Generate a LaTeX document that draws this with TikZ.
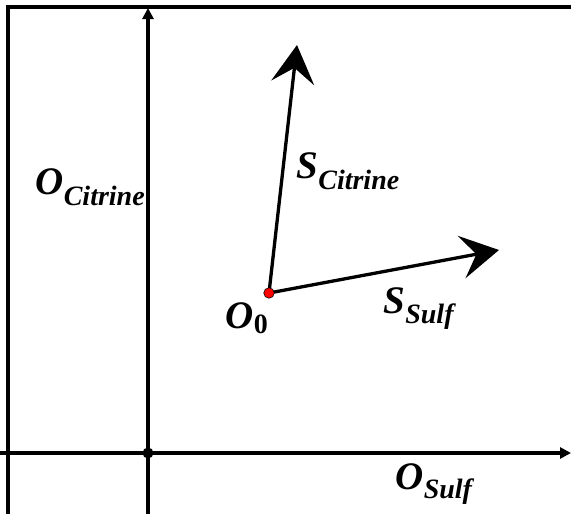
\documentclass[tikz,border=0pt]{standalone}
\usepackage{fontspec}
\setmainfont{Liberation Serif}
\usetikzlibrary{arrows.meta}
\newcommand{\biglet}[1]{{\fontsize{39}{39}\selectfont #1}}
\newcommand{\sublet}[2]{\raisebox{-#1pt}{\fontsize{28}{28}\selectfont #2}}
\begin{document}
\begin{tikzpicture}[x=1pt,y=-1pt, line width=3.3pt,
  lbl/.style={inner sep=0pt, anchor=base west, font=\bfseries\itshape},
  axis/.style={-{Triangle[length=11pt,width=11pt]}},
  vec/.style={-{Stealth[length=38pt,width=43pt,inset=15pt]}},
  dotblack/.style={circle, fill=black, inner sep=0pt, minimum size=11pt},
  dotred/.style={circle, fill=red, draw=black, line width=0.6pt, inner sep=0pt, minimum size=10.5pt}]
\useasboundingbox (0,0) rectangle (571,514);
% frame
\draw (8,516) -- (8,7) -- (573,7);
% axes
\coordinate (vb) at (148,516);
\coordinate (vt) at (148,8);
\coordinate (hl) at (-2,453);
\coordinate (hr) at (571,453);
\draw[axis] (vb) -- (vt);
\draw[axis] (hl) -- (hr);
\node[dotblack] (orig) at (148,453) {};
% vectors
\coordinate (tipc) at (297,45);
\coordinate (tips) at (499,250);
\coordinate (o0c) at (269,293);
\draw[vec] (o0c) -- (tipc);
\draw[vec] (o0c) -- (tips);
\node[dotred] (o0) at (o0c) {};
% labels
\node[lbl] (loc) at (34,194) {\biglet{O}\sublet{11}{Citrine}};
\node[lbl] (lsc) at (295,178) {\biglet{S}\sublet{11}{Citrine}};
\node[lbl] (lss) at (382,313) {\biglet{S}\sublet{10}{Sulf}};
\node[lbl] (lo0) at (224,328) {\biglet{O}\sublet{5}{\upshape 0}};
\node[lbl] (los) at (394,489) {\biglet{O}\sublet{9}{Sulf}};
\end{tikzpicture}
\end{document}
